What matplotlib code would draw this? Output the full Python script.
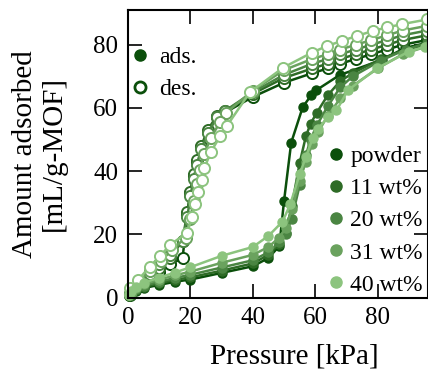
import matplotlib
matplotlib.use("Agg")
import matplotlib.pyplot as plt
from matplotlib.lines import Line2D

plt.rcParams['font.family'] = ['Liberation Serif', 'DejaVu Serif']

labels = ["powder", "11 wt%", "20 wt%", "31 wt%", "40 wt%"]
colors = ["#0b4f0b", "#2e6b26", "#4a8542", "#6aa25e", "#8cc47e"]

# adsorption branches
powder_ads_p = [0.3, 1, 2.5, 5, 10, 15, 20, 30, 40, 45, 48.5, 50, 52.3, 56, 58.7, 60.3, 67.8, 81.3, 88.8, 95.8]
powder_ads_q = [0.5, 1.2, 2.0, 3.0, 4.0, 5.0, 5.7, 7.8, 9.9, 12.5, 16.3, 30.5, 49, 60.3, 64, 65.6, 70.4, 75.2, 79, 80.6]
wt11_ads_p = [0.3, 1, 2.5, 5, 10, 15, 20, 30, 40, 45, 48.5, 50.5, 52.5, 55, 57, 58.5, 60.5, 64, 68, 72, 81, 89, 95.8]
wt11_ads_q = [0.6, 1.4, 2.3, 3.3, 4.5, 5.6, 6.4, 8.5, 10.8, 13.5, 17, 20.5, 29, 42.5, 51, 55, 58.5, 64, 68.5, 71, 75.5, 78.5, 80]
wt20_ads_p = [0.3, 1, 2.5, 5, 10, 15, 20, 30, 40, 45, 48.5, 50.5, 52.5, 55, 57, 58.5, 60.5, 64, 68, 72, 81, 89, 95.8]
wt20_ads_q = [0.7, 1.6, 2.6, 3.7, 5.0, 6.2, 7.2, 9.5, 11.8, 14.3, 17.5, 20, 25, 35.5, 45, 50, 54.5, 60.5, 66.5, 70, 75, 78.5, 80.5]
wt31_ads_p = [0.3, 1, 2.5, 5, 10, 15, 20, 30, 40, 45, 48.5, 50.5, 52.5, 55, 57, 59, 61, 64, 68, 72, 80, 88, 95.8]
wt31_ads_q = [0.8, 1.8, 3.0, 4.2, 5.7, 7.0, 8.2, 11, 13.5, 16, 19, 22, 28, 37, 43, 48.5, 52.5, 57.5, 63, 67, 72.5, 77, 79.5]
wt40_ads_p = [0.3, 1, 2.5, 5, 10, 15, 20, 30, 40, 45, 49.5, 52, 55, 57, 59.2, 61, 64, 66.8, 70.5, 79.7, 89.9, 95.2]
wt40_ads_q = [0.9, 2.0, 3.3, 4.7, 6.3, 7.9, 9.6, 13.2, 16, 19.5, 24, 29.5, 39, 44.5, 50.4, 53.5, 57, 59.2, 65.6, 72.5, 77.8, 79.4]

# desorption branches
des_p = [95.8, 88, 83, 78, 73, 68, 64, 59, 50, 40, 31, 28.5, 25.5, 23.5, 22, 21, 20, 19, 17.5, 13.5, 10, 7, 3.5, 0.5]
powder_des_q = [81.5, 80, 78.5, 77, 75.5, 74, 72.5, 71, 68, 63.5, 58.5, 57, 52.5, 47.5, 43, 38.5, 33, 26, 12.5, 10.5, 8, 5.5, 3.5, 0.8]
wt11_des_q = [83, 81.5, 80, 78.5, 77, 75.5, 74, 72.5, 69.5, 64.5, 59, 57.5, 53, 48, 43.5, 39, 33.5, 27, 18, 12.5, 9.5, 6.5, 4, 1]
wt20_des_q = [84.5, 83, 81.5, 80, 78.5, 77, 75.5, 74, 70.5, 65, 59, 57, 52, 47, 42, 37.5, 32, 25.5, 18, 13.5, 10.5, 7.5, 4.5, 1.2]
wt31_des_p = [95.8, 88, 83, 78, 73, 68, 64, 59, 50, 40, 31.5, 29.5, 26.5, 24.5, 23, 22, 21, 20, 18.5, 14, 10.5, 7, 3.5, 0.5]
wt31_des_q = [86, 84.5, 83, 81.5, 80, 78.5, 77, 75.5, 72, 65.5, 58.5, 55.5, 50.5, 45.5, 40.5, 36, 30.5, 25, 19, 15, 11.5, 8.5, 5, 1.5]
wt40_des_p = [95.8, 87.7, 83, 78.6, 73.3, 68.5, 63.7, 58.9, 49.8, 39.1, 31.6, 29.5, 26.5, 24.5, 23.6, 22.5, 21.5, 20.5, 19, 13.5, 10.3, 7, 3.3, 0.6]
wt40_des_q = [88, 86.5, 85.5, 84.4, 82.8, 81.2, 79.6, 77.5, 72.8, 65, 54.2, 51, 46, 41, 37.3, 33.5, 29.5, 25.5, 20.5, 16.7, 13.1, 9.8, 5.6, 2.9]

ads = [(powder_ads_p, powder_ads_q), (wt11_ads_p, wt11_ads_q), (wt20_ads_p, wt20_ads_q),
       (wt31_ads_p, wt31_ads_q), (wt40_ads_p, wt40_ads_q)]
des = [(des_p, powder_des_q), (des_p, wt11_des_q), (des_p, wt20_des_q),
       (wt31_des_p, wt31_des_q), (wt40_des_p, wt40_des_q)]

fig = plt.figure(figsize=(4.28, 3.71), dpi=100)
ax = fig.add_axes([0.299, 0.198, 0.700, 0.775])

for (pa, qa), (pd_, qd), c in zip(ads, des, colors):
    ax.plot(pd_, qd, '-o', color=c, lw=1.8, ms=8, mfc='white', mec=c, mew=1.4, clip_on=False)
    ax.plot(pa, qa, '-o', color=c, lw=1.8, ms=6.5, clip_on=False)

ax.set_xlim(0, 96)
ax.set_ylim(0, 91)
ax.set_xticks([0, 20, 40, 60, 80])
ax.set_yticks([0, 20, 40, 60, 80])
ax.tick_params(direction='in', length=10, width=1.2, top=True, right=True, labelsize=18, pad=7)
for s in ax.spines.values():
    s.set_linewidth(1.5)

ax.set_xlabel("Pressure [kPa]", fontsize=21)
ax.xaxis.set_label_coords(0.554, -0.16)
ax.set_ylabel("Amount adsorbed\n[mL/g-MOF]", fontsize=21, linespacing=1.15)
ax.yaxis.set_label_coords(-0.205, 0.5)

h1 = [Line2D([], [], ls='none', marker='o', ms=8, color=colors[0]),
      Line2D([], [], ls='none', marker='o', ms=8, mfc='white', mec=colors[0], mew=2)]
leg1 = ax.legend(h1, ["ads.", "des."], loc='upper left', bbox_to_anchor=(0, 0.89), frameon=False,
                 fontsize=17, handlelength=0.6, handletextpad=0.5, borderaxespad=0, borderpad=0.2,
                 labelspacing=0.45)
ax.add_artist(leg1)

h2 = [Line2D([], [], ls='none', marker='o', ms=8, color=c) for c in colors]
ax.legend(h2, labels, loc='lower right', bbox_to_anchor=(1.0, -0.01), frameon=False, fontsize=17,
          handlelength=0.6, handletextpad=0.3, borderaxespad=0, borderpad=0.2, labelspacing=0.45)

fig.savefig("out.png", dpi=100)
